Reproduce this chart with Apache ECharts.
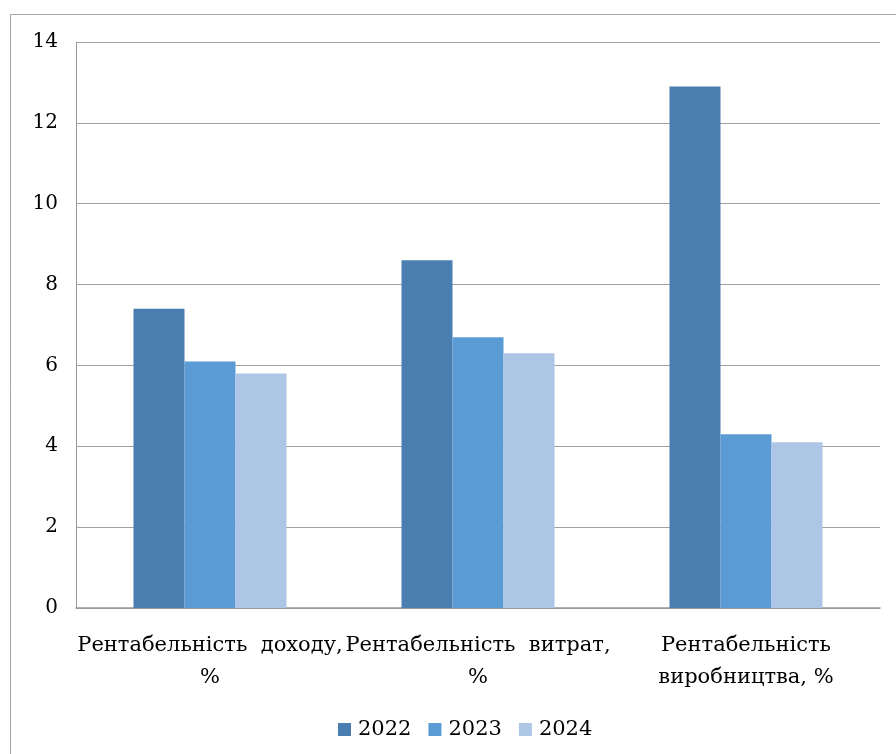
<!DOCTYPE html>
<html>
<head>
  <meta charset="utf8">
  <script src="https://cdn.jsdelivr.net/npm/echarts@6/dist/echarts.min.js"></script>
  <style>
    html, body { margin: 0; padding: 0; background: #fff; }
    #main { width: 896px; height: 754px; }
  </style>
</head>
<body>
<div id="main"></div>
<script type="text/javascript">
  // categories (line breaks as in the picture)
  var categories = [
      'Рентабельність  доходу,\n%',
      'Рентабельність  витрат,\n%',
      'Рентабельність\nвиробництва, %'
  ];
  var years = ['2022', '2023', '2024'];
  var values2022 = [7.4, 8.6, 12.9];
  var values2023 = [6.1, 6.7, 4.3];
  var values2024 = [5.8, 6.3, 4.1];
  var yTicks = [0, 2, 4, 6, 8, 10, 12, 14];
  var colors = ['#4a7eb0', '#5b9bd5', '#adc6e5'];

  var font = 'DejaVu Serif';
  var chart = echarts.init(document.getElementById('main'));

  var seriesData = [values2022, values2023, values2024];
  var series = [];
  for (var i = 0; i < years.length; i++) {
      series.push({
          name: years[i],
          type: 'bar',
          data: seriesData[i],
          barWidth: 51,
          barGap: '0%',
          itemStyle: { color: colors[i] }
      });
  }

  chart.setOption({
      animation: false,
      color: colors,
      textStyle: { fontFamily: font },
      graphic: [{
          type: 'rect',
          shape: { x: 10.5, y: 14.5, width: 900, height: 760 },
          style: { fill: 'none', stroke: '#a6a6a6', lineWidth: 1 },
          silent: true
      }],
      grid: { left: 76, right: 16, top: 42, bottom: 146 },
      legend: {
          bottom: 9,
          left: 333,
          itemWidth: 13,
          itemHeight: 13,
          itemGap: 17,
          icon: 'rect',
          textStyle: { fontFamily: font, fontSize: 21, color: '#000', padding: [0, 0, 0, 2] },
          data: years
      },
      xAxis: {
          type: 'category',
          data: categories,
          axisTick: { show: false },
          axisLine: { lineStyle: { color: '#999', width: 1.5 } },
          axisLabel: {
              interval: 0,
              margin: 22,
              lineHeight: 32,
              fontFamily: font,
              fontSize: 21,
              color: '#000'
          }
      },
      yAxis: {
          type: 'value',
          min: yTicks[0],
          max: yTicks[yTicks.length - 1],
          interval: 2,
          axisLine: { show: true, lineStyle: { color: '#999', width: 1 } },
          axisTick: { show: false },
          axisLabel: {
              margin: 18,
              fontFamily: font,
              fontSize: 20,
              color: '#000'
          },
          splitLine: { lineStyle: { color: '#a0a0a0', width: 1.2 } }
      },
      series: series
  });
</script>
</body>
</html>
